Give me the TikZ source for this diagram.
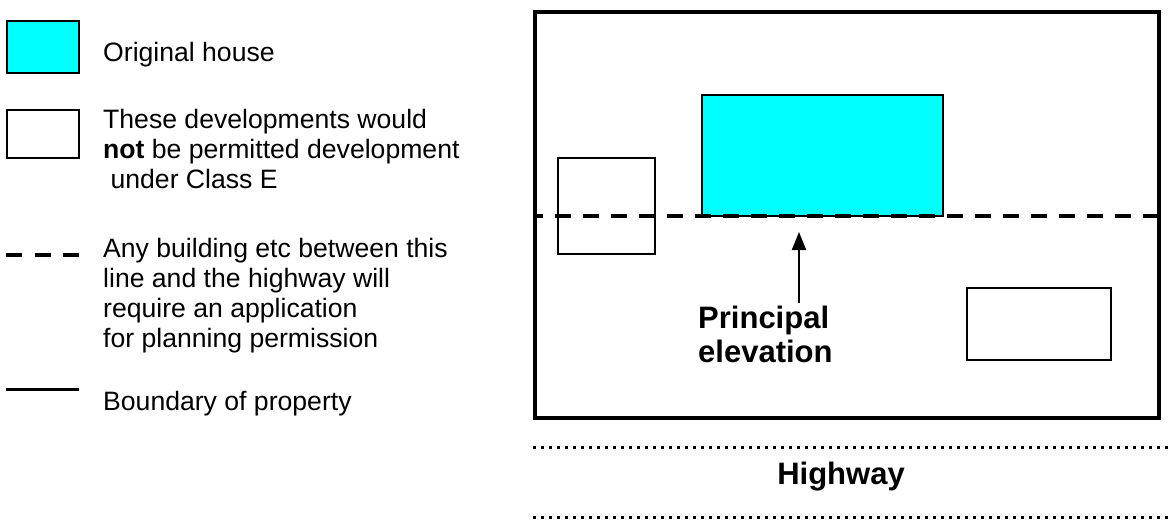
\documentclass[tikz,border=0pt]{standalone}
\usepackage{fontspec}
\setmainfont{Liberation Sans}
\usetikzlibrary{arrows.meta}
\definecolor{housecyan}{RGB}{0,255,255}
\begin{document}
\begin{tikzpicture}[x=1pt,y=-1pt,font=\fontsize{26.6}{30}\selectfont,
		plotbox/.style={draw,line width=2pt},
		frontline/.style={line width=4pt,dash pattern=on 16pt off 12pt},
		roadline/.style={line width=3pt,dash pattern=on 3pt off 5pt},
		keytext/.style={anchor=base west,inner sep=0pt,align=left},
		bigtext/.style={inner sep=0pt,font=\fontsize{31}{34}\selectfont\bfseries}]
	\useasboundingbox (0,0) rectangle (1173,522);
	\path (535,12) coordinate (B1) (1159,418) coordinate (B2)
		(702,95) coordinate (H1) (943,216) coordinate (H2)
		(558,158) coordinate (S1) (655,254) coordinate (S2)
		(967,288) coordinate (R1) (1111,360) coordinate (R2)
		(799,303) coordinate (tail) (799,232) coordinate (tip);
	% key (multi-line texts sit on their last baseline)
	\fill[housecyan] (7,21) rectangle (79,73);
	\draw[plotbox] (7,21) rectangle (79,73) (7,110) rectangle (79,158);
	\draw[frontline,dash pattern=on 16pt off 12.5pt] (6,255)--(79,255);
	\draw[line width=3pt] (6,389)--(79,389);
	\node[keytext] (k1) at (103,61) {Original house};
	\node[keytext] (k2) at (103,188) {These developments would\\\textbf{not} be permitted development\\\ under Class E};
	\node[keytext] (k3) at (103,347) {Any building etc between this\\line and the highway will\\require an application\\for planning permission};
	\node[keytext] (k4) at (103,410) {Boundary of property};
	% plot
	\fill[housecyan] (H1) rectangle (H2);
	\draw[plotbox] (H1) rectangle (H2) (S1) rectangle (S2) (R1) rectangle (R2);
	\draw[frontline,dash phase=8pt] (B1|-H2)--(B2|-H2);
	\draw[line width=4pt] (B1) rectangle (B2);
	\draw[line width=2pt,-{Triangle[length=18pt,width=14pt]}] (tail)--(tip);
	\node[bigtext,anchor=base west,align=left] (pe) at (698,362) {Principal\\elevation};
	\foreach \y in {447,517}{\draw[roadline] (533,\y)--(1170,\y);}
	\node[bigtext,anchor=base] (hw) at (841,484) {Highway};
\end{tikzpicture}
\end{document}
